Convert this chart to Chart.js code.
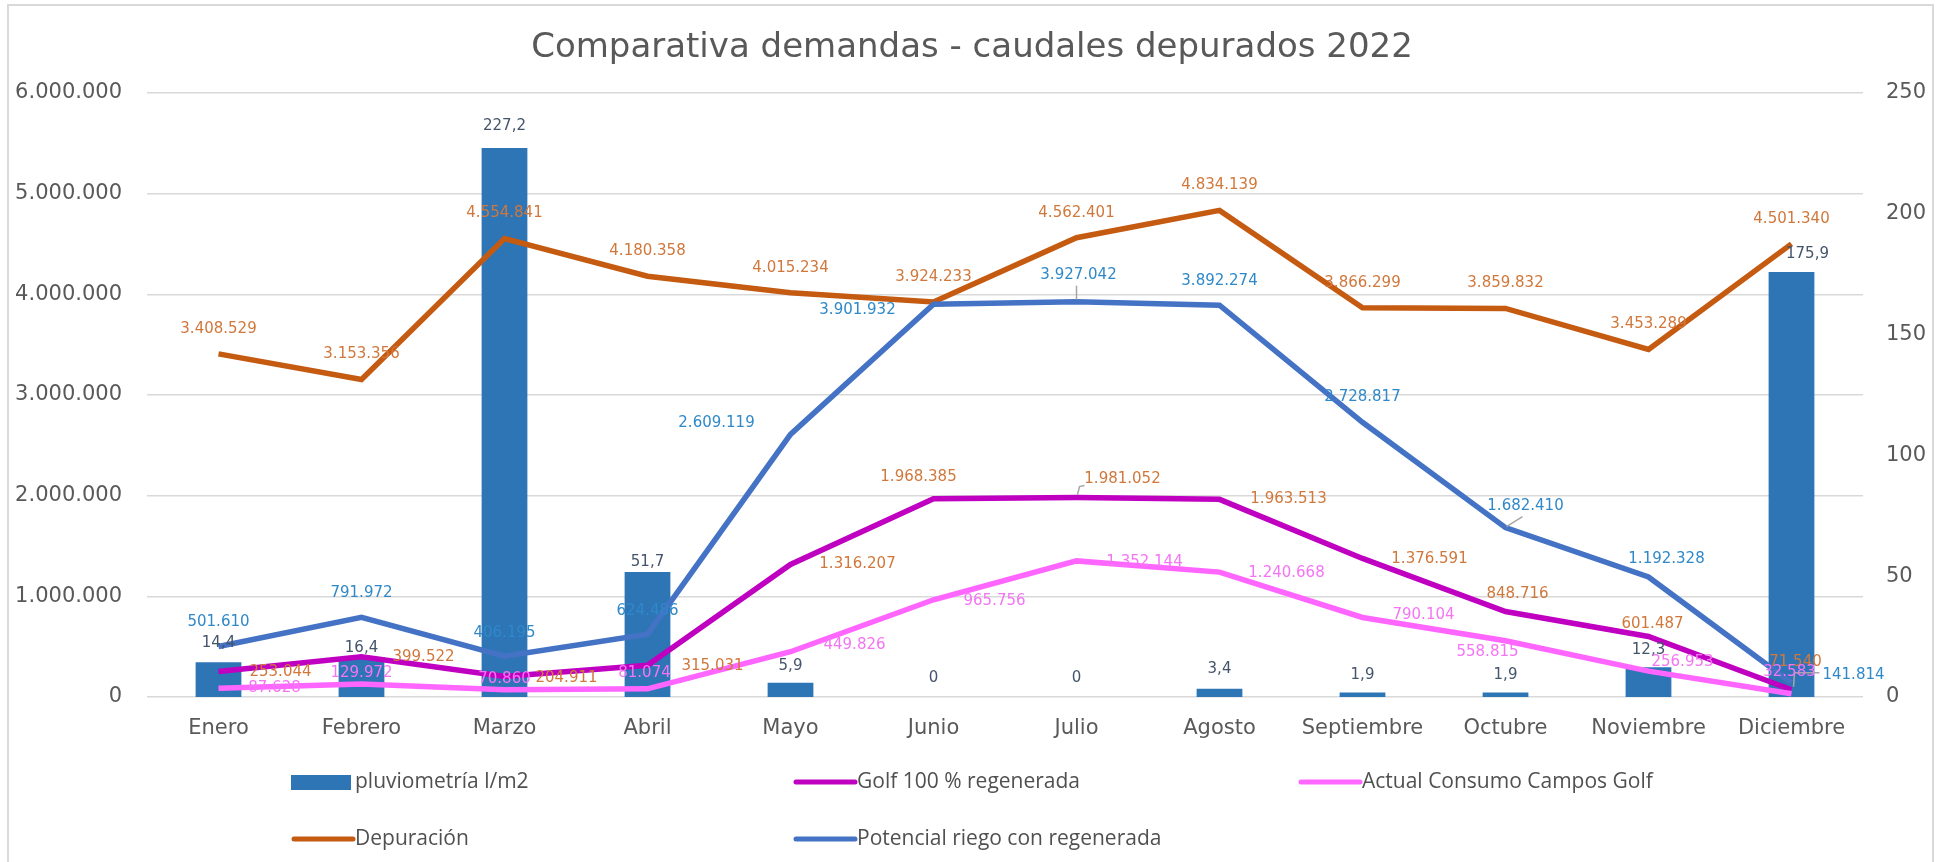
<!DOCTYPE html>
<html><head><meta charset="utf-8">
<script src="https://cdn.jsdelivr.net/npm/chart.js@4.4.1/dist/chart.umd.min.js"></script>
<style>html,body{margin:0;padding:0;background:#fff;}canvas{display:block}</style>
</head><body>
<canvas id="c" width="1941" height="862"></canvas>
<script>
// ---------- DATA ----------
const chartTitle = 'Comparativa demandas - caudales depurados 2022';
const categories = ['Enero','Febrero','Marzo','Abril','Mayo','Junio','Julio','Agosto','Septiembre','Octubre','Noviembre','Diciembre'];
const pluviometria = [14.4, 16.4, 227.2, 51.7, 5.9, 0, 0, 3.4, 1.9, 1.9, 12.3, 175.9];
const golf100 = [253044, 399522, 204911, 315031, 1316207, 1968385, 1981052, 1963513, 1376591, 848716, 601487, 71540];
const actualConsumo = [87628, 129972, 70860, 81074, 449826, 965756, 1352144, 1240668, 790104, 558815, 256953, 32583];
const depuracion = [3408529, 3153356, 4554841, 4180358, 4015234, 3924233, 4562401, 4834139, 3866299, 3859832, 3453289, 4501340];
const potencialRiego = [501610, 791972, 406195, 624486, 2609119, 3901932, 3927042, 3892274, 2728817, 1682410, 1192328, 141814];
const leftTickValues = [0, 1000000, 2000000, 3000000, 4000000, 5000000, 6000000];
const rightTickValues = [0, 50, 100, 150, 200, 250];

// ---------- STYLE / LABEL PLACEMENT ----------
const COL_BAR = '#2E75B6', COL_GOLF = '#C000C0', COL_ACT = '#FF66FF', COL_DEP = '#C55A11', COL_POT = '#4472C4';
const FONT = '"DejaVu Sans", Verdana, sans-serif';
const fmtThousands = v => String(v).replace(/\B(?=(\d{3})+(?!\d))/g, '.');
const fmtDecimal = v => v === 0 ? '0' : v.toFixed(1).replace('.', ',');

const labelStyles = [
  { color: '#44546A', fmt: fmtDecimal,
    off: [[0,-19],[0,-9],[0,-22],[0,-10],[0,-17],[0,-19],[0,-19],[0,-20],[0,-17],[0,-17],[0,-17],[16,-18]] },
  { color: '#D0783C', fmt: fmtThousands,
    off: [[62,1],[62,0],[62,2],[65,1],[67,0],[-15,-22],[46,-18],[69,0],[67,1],[12,-17],[4,-12],[4,-28]] },
  { color: '#F574F5', fmt: fmtThousands,
    off: [[56,0],[0,-11],[0,-11],[-3,-16],[64,-7],[61,1],[68,1],[67,1],[61,-2],[-18,11],[34,-9],[-2,-22]] },
  { color: '#D0783C', fmt: fmtThousands,
    off: [[0,-25],[0,-25],[0,-25],[0,-25],[0,-25],[0,-25],[0,-25],[0,-25],[0,-25],[0,-25],[0,-25],[0,-25]] },
  { color: '#2F88C8', fmt: fmtThousands,
    off: [[0,-24],[0,-24],[0,-23],[0,-23],[-74,-11],[-76,6],[2,-27],[0,-24],[0,-25],[20,-22],[18,-18],[62,-8]] }
];
const leaders = [
  { ds: 4, i: 6, pts: [[0,-2],[0,-16]] },
  { ds: 1, i: 6, pts: [[1,-3],[3,-11],[8,-12]] },
  { ds: 4, i: 9, pts: [[1,-1],[17,-11]] },
  { ds: 4, i: 11, pts: [[2,4],[3,-10],[28,-10]] }
];

const frameAndTitle = {
  id: 'frameAndTitle',
  beforeDraw(chart) {
    const ctx = chart.ctx;
    ctx.save();
    ctx.fillStyle = '#fff';
    ctx.fillRect(0, 0, chart.width, chart.height);
    ctx.strokeStyle = '#D9D9D9';
    ctx.lineWidth = 2;
    ctx.strokeRect(8, 5, 1925, 862);
    ctx.fillStyle = '#595959';
    ctx.font = '34px ' + FONT;
    ctx.textAlign = 'center';
    ctx.textBaseline = 'middle';
    ctx.fillText(chartTitle, 972, 48);
    ctx.restore();
  }
};

const dataLabels = {
  id: 'dataLabels',
  afterDatasetsDraw(chart) {
    const ctx = chart.ctx;
    ctx.save();
    ctx.strokeStyle = '#A6A6A6';
    ctx.lineWidth = 1.5;
    leaders.forEach(l => {
      const el = chart.getDatasetMeta(l.ds).data[l.i];
      ctx.beginPath();
      l.pts.forEach((p, k) => { const x = el.x + p[0], y = el.y + p[1]; k ? ctx.lineTo(x, y) : ctx.moveTo(x, y); });
      ctx.stroke();
    });
    ctx.font = '15px ' + FONT;
    ctx.textAlign = 'center';
    ctx.textBaseline = 'middle';
    chart.data.datasets.forEach((ds, di) => {
      const st = labelStyles[di];
      const meta = chart.getDatasetMeta(di);
      meta.data.forEach((el, i) => {
        ctx.fillStyle = st.color;
        ctx.fillText(st.fmt(ds.data[i]), el.x + st.off[i][0], el.y + st.off[i][1]);
      });
    });
    ctx.restore();
  }
};

const customLegend = {
  id: 'customLegend',
  afterDraw(chart) {
    const ctx = chart.ctx;
    const slots = [[291, 782], [793, 782], [1298, 782], [291, 839], [793, 839]];
    ctx.save();
    ctx.font = '21px "Open Sans", sans-serif';
    ctx.textBaseline = 'middle';
    ctx.textAlign = 'left';
    chart.data.datasets.forEach((ds, di) => {
      const [x, y] = slots[di];
      if (ds.type === 'line') {
        ctx.strokeStyle = ds.borderColor;
        ctx.lineWidth = 5;
        ctx.lineCap = 'round';
        ctx.beginPath(); ctx.moveTo(x + 3, y); ctx.lineTo(x + 62, y); ctx.stroke();
      } else {
        ctx.fillStyle = ds.backgroundColor;
        ctx.fillRect(x, y - 7, 60, 15);
      }
      ctx.fillStyle = '#505050';
      ctx.fillText(ds.label, x + 64, y);
    });
    ctx.restore();
  }
};

new Chart(document.getElementById('c'), {
  type: 'bar',
  data: {
    labels: categories,
    datasets: [
      { type: 'bar', label: 'pluviometría l/m2', data: pluviometria, backgroundColor: COL_BAR, yAxisID: 'y1', order: 10, barPercentage: 0.32, categoryPercentage: 1 },
      { type: 'line', label: 'Golf 100 % regenerada', data: golf100, borderColor: COL_GOLF, backgroundColor: COL_GOLF, borderWidth: 5.5, pointRadius: 0, yAxisID: 'y', order: 3, tension: 0 },
      { type: 'line', label: 'Actual Consumo Campos Golf', data: actualConsumo, borderColor: COL_ACT, backgroundColor: COL_ACT, borderWidth: 5.5, pointRadius: 0, yAxisID: 'y', order: 2, tension: 0 },
      { type: 'line', label: 'Depuración', data: depuracion, borderColor: COL_DEP, backgroundColor: COL_DEP, borderWidth: 5.5, pointRadius: 0, yAxisID: 'y', order: 5, tension: 0 },
      { type: 'line', label: 'Potencial riego con regenerada', data: potencialRiego, borderColor: COL_POT, backgroundColor: COL_POT, borderWidth: 5.5, pointRadius: 0, yAxisID: 'y', order: 4, tension: 0 }
    ]
  },
  options: {
    responsive: false,
    animation: false,
    devicePixelRatio: 1,
    layout: { padding: { top: 93, bottom: 115, left: 0, right: 0 } },
    plugins: { legend: { display: false }, title: { display: false }, tooltip: { enabled: false } },
    scales: {
      x: {
        grid: { display: false },
        border: { display: false },
        ticks: { font: { family: FONT, size: 21 }, color: '#595959', padding: 11, maxRotation: 0, autoSkip: false },
        afterFit(s) { s.height = 50; }
      },
      y: {
        position: 'left', min: 0, max: 6000000,
        afterBuildTicks(s) { s.ticks = leftTickValues.map(v => ({ value: v })); },
        grid: { color: '#D9D9D9', lineWidth: 1.5, drawTicks: false },
        border: { display: false },
        ticks: { font: { family: FONT, size: 21 }, color: '#595959', padding: 25, callback: v => fmtThousands(v) },
        afterFit(s) { s.width = 147; }
      },
      y1: {
        position: 'right', min: 0, max: 250,
        afterBuildTicks(s) { s.ticks = rightTickValues.map(v => ({ value: v })); },
        grid: { display: false, drawTicks: false },
        border: { display: false },
        ticks: { font: { family: FONT, size: 21 }, color: '#595959', padding: 23, callback: v => String(v) },
        afterFit(s) { s.width = 78; }
      }
    }
  },
  plugins: [frameAndTitle, dataLabels, customLegend]
});
</script>
</body></html>
